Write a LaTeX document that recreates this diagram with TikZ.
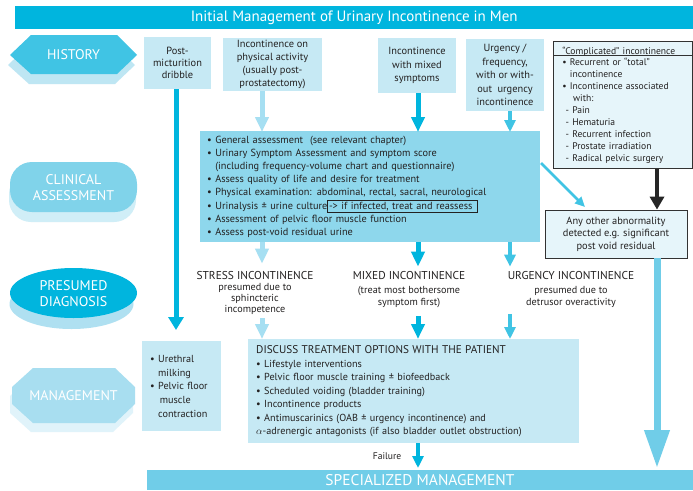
\documentclass[tikz,border=0pt]{standalone}
\usepackage{fontspec}
\setmainfont{PT Sans}
\usetikzlibrary{arrows.meta,calc}
\definecolor{titlec}{RGB}{0,181,222}
\definecolor{histc}{RGB}{64,196,228}
\definecolor{histsh}{RGB}{190,230,243}
\definecolor{clinc}{RGB}{128,211,234}
\definecolor{clinsh}{RGB}{208,238,247}
\definecolor{presc}{RGB}{0,181,222}
\definecolor{pressh}{RGB}{175,224,241}
\definecolor{mgmtc}{RGB}{168,222,240}
\definecolor{mgmtsh}{RGB}{224,243,250}
\definecolor{lightc}{RGB}{198,233,244}
\definecolor{mainc}{RGB}{142,215,236}
\definecolor{palec}{RGB}{230,245,250}
\definecolor{arrlight}{RGB}{166,223,242}
\definecolor{arrmed}{RGB}{64,196,228}
\definecolor{specc}{RGB}{112,205,232}
\definecolor{textc}{RGB}{35,33,33}
\definecolor{boxdark}{RGB}{50,50,50}
\begin{document}
\begin{tikzpicture}[x=1pt,y=-1pt,
  txt/.style={text=textc, font=\fontsize{10.4}{13}\selectfont, inner sep=0pt},
  capt/.style={text=textc, font=\fontsize{11.4}{13}\selectfont, inner sep=0pt},
  lbox/.style={fill=lightc, draw=none, inner sep=2pt, align=center, text=textc},
  labtxt/.style={text=white, font=\fontsize{14}{16}\selectfont, align=center, inner sep=0pt},
  arrL/.style={draw=arrlight, line width=5pt, -{Triangle[width=13pt,length=15pt]}},
  arrC/.style={draw=titlec, line width=5pt, -{Triangle[width=13pt,length=15pt]}},
  arrM/.style={draw=arrmed, line width=4pt, -{Triangle[width=11pt,length=12pt]}}
]
\useasboundingbox (0,0) rectangle (693,490);
\fill[white] (0,0) rectangle (693,490);

% title bar
\node[fill=titlec, text=white, font=\fontsize{15}{17}\selectfont, minimum width=678, minimum height=23, anchor=north west, inner sep=0pt] (title) at (15,6) {Initial Management of Urinary Incontinence in Men};

% left labels
\fill[histsh] (8,65)--(29,45)--(115,45)--(135,65)--(115,84)--(29,84)--cycle;
\fill[histc] (10,55)--(31,35)--(117,35)--(137,55)--(117,74)--(31,74)--cycle;
\node[labtxt] (hist) at (73.5,55) {HISTORY};

\fill[clinsh, rounded corners=22pt] (9,172) rectangle (136,222);
\fill[clinc, rounded corners=22pt] (10,162) rectangle (137,212);
\node[labtxt] (clin) at (73.5,187.5) {CLINICAL\\ASSESSMENT};

\fill[pressh] (71.5,304) ellipse [x radius=62, y radius=25];
\fill[presc] (73.5,293) ellipse [x radius=63.5, y radius=25];
\node[labtxt] (pres) at (73.5,294) {PRESUMED\\DIAGNOSIS};

\fill[mgmtsh] (10,396)--(31,377)--(113,377)--(133,396)--(133,413)--(113,432)--(31,432)--(10,413)--cycle;
\fill[mgmtc] (12,387)--(33,368)--(115,368)--(135,387)--(135,404)--(115,423)--(33,423)--(12,404)--cycle;
\node[labtxt] (mgmt) at (73.5,395.5) {MANAGEMENT};

% history boxes
\node[lbox, font=\fontsize{10.4}{12}\selectfont, minimum width=67, minimum height=52] (pmd) at (177.5,63) {Post-\\micturition\\dribble};
\node[lbox, font=\fontsize{10.4}{12.7}\selectfont, minimum width=99, minimum height=53] (pa) at (272.5,64.5) {Incontinence on\\physical activity\\(usually post-\\prostatectomy)};
\node[lbox, font=\fontsize{10.4}{13.5}\selectfont, minimum width=78, minimum height=55] (mix) at (417,65.5) {Incontinence\\with mixed\\symptoms};
\node[lbox, font=\fontsize{10.4}{13.4}\selectfont, minimum width=78, minimum height=72] (urg) at (505,75) {Urgency /\\frequency,\\with or with-\\out\ \ urgency\\incontinence};

% complicated box
\node[fill=palec, draw=boxdark, line width=0.8pt, anchor=north west, text width=121, inner xsep=9pt, inner ysep=0pt, minimum height=127, align=left, text=textc, font=\fontsize{9.6}{11.9}\selectfont] (cb) at (553,41) {“Complicated” incontinence\\
• Recurrent or “total”\\
\phantom{• }incontinence\\
• Incontinence associated\\
\phantom{• }\ with:\\
\ - Pain\\
\ - Hematuria\\
\ - Recurrent infection\\
\ - Prostate irradiation\\
\ - Radical pelvic surgery};
\draw[boxdark, line width=0.8pt] (cb.west |- 0,55.5) -- (cb.east |- 0,55.5);

% any other
\node[fill=palec, draw=boxdark, line width=0.8pt, minimum width=142, minimum height=48, align=center, text=textc, inner sep=0pt, font=\fontsize{10.4}{12.5}\selectfont] (any) at (616,234) {Any other abnormality\\detected e.g. significant\\post void residual};

% main clinical box
\node[fill=mainc, anchor=north west, text width=326, inner xsep=7pt, inner ysep=0pt, minimum height=111, align=left, text=textc, font=\fontsize{10.3}{13.2}\selectfont] (main) at (200,131) {• General assessment\ \ (see relevant chapter)\\
• Urinary Symptom Assessment and symptom score\\
\phantom{• }(including frequency-volume chart and questionnaire)\\
• Assess quality of life and desire for treatment\\
• Physical examination: abdominal, rectal, sacral, neurological\\
• Urinalysis ± urine culture{\setlength{\fboxsep}{1pt}\setlength{\fboxrule}{0.6pt}\fbox{-> if infected, treat and reassess\hspace{4pt}}}\\
• Assessment of pelvic floor muscle function\\
• Assess post-void residual urine};

% diagnoses
\node[capt] (stressT) at (255,276) {STRESS INCONTINENCE};
\node[txt, align=center, font=\fontsize{10.2}{11.3}\selectfont] (stressS) at (255,299) {presumed due to\\sphincteric\\incompetence};
\node[capt] (mixT) at (409,276) {MIXED INCONTINENCE};
\node[txt, align=center, font=\fontsize{10.2}{12}\selectfont] (mixS) at (409,297) {(treat most bothersome\\symptom first)};
\node[capt] (urgT) at (571,276) {URGENCY INCONTINENCE};
\node[txt, align=center, font=\fontsize{10.2}{12}\selectfont] (urgS) at (571,297) {presumed due to\\detrusor overactivity};

% management boxes
\node[fill=lightc, anchor=north west, text width=63, inner xsep=8pt, inner ysep=0pt, minimum height=90, align=left, text=textc, font=\fontsize{10.2}{13.7}\selectfont] (milk) at (142,341) {• Urethral\\
\phantom{• }milking\\
• Pelvic floor\\
\phantom{• }\,muscle\\
\phantom{• }contraction};
\node[fill=lightc, anchor=north west, text width=315, inner xsep=8pt, inner ysep=0pt, minimum height=104, align=left, text=textc, font=\fontsize{10.2}{13.5}\selectfont] (disc) at (248,339) {{\fontsize{11.2}{13.5}\selectfont DISCUSS TREATMENT OPTIONS WITH THE PATIENT}\\
• Lifestyle interventions\\
• Pelvic floor muscle training ± biofeedback\\
• Scheduled voiding (bladder training)\\
• Incontinence products\\
• Antimuscarinics (OAB ± urgency incontinence) and\\
$\alpha$-adrenergic antagonists (if also bladder outlet obstruction)};

% specialized bar
\fill[specc] (147,470) rectangle (693,490);
\node[text=white, font=\fontsize{15.5}{17}\selectfont, inner sep=0pt, anchor=base] (spec) at (420,485.5) {SPECIALIZED MANAGEMENT};
\coordinate (spectop) at (420,470);

\node[txt, font=\fontsize{9.6}{11}\selectfont] (fail) at (387,456) {Failure};

% arrow x positions
\coordinate (c0) at (176,0);
\coordinate (c1) at (262,0);
\coordinate (c2) at (418,0);
\coordinate (c3) at (510,0);
\coordinate (c4) at (657,0);
\coordinate (d1) at (541,163);
\coordinate (d2) at (585,207);

% connectors
\draw[draw=titlec, line width=5pt, -{Triangle[width=15pt,length=13pt]}, shorten >=11pt] (c0 |- pmd.south) -- (c0 |- milk.north);
\draw[arrL] (c1 |- pa.south) -- ([yshift=-1pt]c1 |- main.north);
\draw[arrC] (c2 |- mix.south) -- ([yshift=-1pt]c2 |- main.north);
\draw[arrM] (c3 |- urg.south) -- ([yshift=-1pt]c3 |- main.north);
\draw[draw=arrmed, line width=2.5pt, -{Triangle[width=9pt,length=10pt]}] (d1) -- (d2);

\draw[arrL, shorten >=8pt] (c1 |- main.south) -- (c1 |- stressT.north);
\draw[arrC, shorten >=5pt] (c2 |- main.south) -- (c2 |- mixT.north);
\draw[arrM, shorten >=5pt] (c3 |- main.south) -- (c3 |- urgT.north);
\draw[arrL, shorten <=3pt] (c1 |- stressS.south) -- (c1 |- disc.north);
\draw[arrC, shorten <=8pt] (c2 |- mixS.south) -- (c2 |- disc.north);
\draw[arrM, shorten <=6pt] (c3 |- urgS.south) -- (c3 |- disc.north);

\draw[draw=titlec, line width=4pt, -{Triangle[width=11pt,length=12pt]}, shorten >=2pt] (c2 |- disc.south) -- (c2 |- spectop);
\draw[draw=black!85, line width=4pt, -{Triangle[width=14pt,length=13pt]}] (c4 |- cb.south) -- (c4 |- any.north);
\draw[draw=specc, line width=7pt, -{Triangle[width=24pt,length=38pt]}, shorten >=2pt] (c4 |- any.south) -- (c4 |- spectop);
\end{tikzpicture}
\end{document}
